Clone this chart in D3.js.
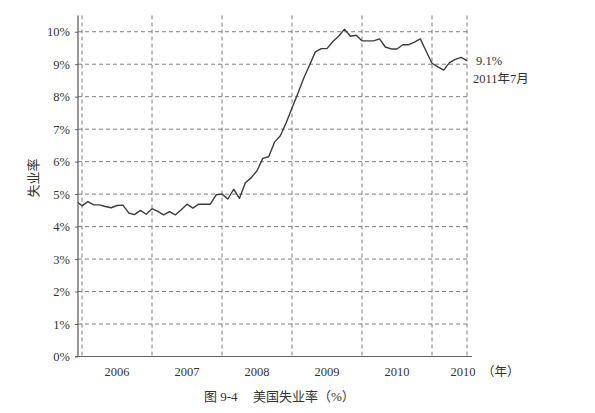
<!DOCTYPE html>
<html>
<head>
<meta charset="utf-8">
<script src="https://cdn.jsdelivr.net/npm/d3@7"></script>
<style>
  html, body { margin: 0; padding: 0; background: #fff; }
  svg { display: block; }
  .serif { font-family: "Liberation Serif", "Noto Sans CJK SC", serif; }
</style>
</head>
<body>
<svg id="chart" width="595" height="413"></svg>
<script>
// ---- data ----
const startMonth = "2005-12";
const rates = [
  4.78,
  4.64, 4.77, 4.67, 4.67, 4.62, 4.58, 4.65, 4.66, 4.42, 4.37, 4.50, 4.38,
  4.55, 4.47, 4.36, 4.46, 4.36, 4.52, 4.69, 4.57, 4.69, 4.69, 4.69, 4.98,
  5.00, 4.85, 5.15, 4.87, 5.35, 5.50, 5.72, 6.10, 6.15, 6.60, 6.80, 7.20,
  7.65, 8.10, 8.57, 8.97, 9.38, 9.48, 9.48, 9.70, 9.86, 10.08, 9.86, 9.89,
  9.72, 9.72, 9.72, 9.78, 9.53, 9.47, 9.47, 9.60, 9.60, 9.68, 9.78, 9.40,
  9.03, 8.92, 8.82, 9.05, 9.15, 9.21, 9.11
];
const yTicks = [0, 1, 2, 3, 4, 5, 6, 7, 8, 9, 10];
const yearLabels = ["2006", "2007", "2008", "2009", "2010", "2010"];
const yearLabelPos = [6, 18, 30, 42, 54, 65.3];   // month index (0 = 2006-01)
const yearLines = [0, 12, 24, 36, 48, 60, 66];
const yTitle = "失业率";
const unitLabel = "（年）";
const noteValue = "9.1%";
const noteDate = "2011年7月";
const captionNo = "图 9-4";
const captionText = "美国失业率（%）";

(function () {
// ---- build monthly points ----
const [sy, sm] = startMonth.split("-").map(Number);
const startIdx = (sy - 2006) * 12 + (sm - 1);
const points = rates.map((v, i) => ({ m: startIdx + i, v }));

const svg = d3.select("#chart");
const pLeft = 78, pRight = 467, pTop = 15.5, pBottom = 356.5;

const x = d3.scaleLinear().domain([-0.69, 66]).range([pLeft, pRight]);
const y = d3.scaleLinear().domain([0, 10.5]).range([pBottom, pTop]);

const gridColor = "#707070";
const textColor = "#333";

svg.append("defs").append("clipPath").attr("id", "plotclip")
  .append("rect").attr("x", pLeft).attr("y", 0).attr("width", pRight - pLeft + 1).attr("height", pBottom);

// horizontal gridlines
svg.append("g").selectAll("line").data(yTicks.filter(d => d > 0)).join("line")
  .attr("x1", pLeft).attr("x2", pRight)
  .attr("y1", d => y(d)).attr("y2", d => y(d))
  .attr("stroke", gridColor).attr("stroke-width", 0.9).attr("stroke-dasharray", "4,3");

// vertical gridlines
svg.append("g").selectAll("line").data(yearLines).join("line")
  .attr("x1", d => x(d)).attr("x2", d => x(d))
  .attr("y1", pTop).attr("y2", pBottom + 2)
  .attr("stroke", gridColor).attr("stroke-width", 0.9).attr("stroke-dasharray", "4,3");

// y axis
const yAxis = d3.axisLeft(y).tickValues(yTicks).tickFormat(d => d + "%").tickSize(3).tickPadding(5);
const gy = svg.append("g").attr("transform", `translate(${pLeft},0)`).call(yAxis);
gy.select(".domain").remove();
gy.selectAll(".tick line").attr("stroke", "#666");
gy.selectAll(".tick text").attr("class", "serif").attr("font-size", 12.5).attr("fill", textColor);
svg.append("line").attr("x1", pLeft).attr("x2", pLeft).attr("y1", pTop).attr("y2", pBottom)
  .attr("stroke", "#555").attr("stroke-width", 1.2);

// x axis
svg.append("line").attr("x1", pLeft - 3).attr("x2", pRight + 5).attr("y1", pBottom).attr("y2", pBottom)
  .attr("stroke", "#666").attr("stroke-width", 1.2);
svg.append("g").selectAll("text").data(yearLabels).join("text")
  .attr("class", "serif")
  .attr("x", (d, i) => x(yearLabelPos[i]))
  .attr("y", 376)
  .attr("text-anchor", "middle")
  .attr("font-size", 12.5).attr("fill", textColor)
  .text(d => d);
svg.append("text").attr("class", "serif")
  .attr("x", 482).attr("y", 376)
  .attr("font-size", 12.5).attr("fill", textColor)
  .text(unitLabel);

// line
const line = d3.line().x(d => x(d.m)).y(d => y(d.v));
svg.append("path").datum(points)
  .attr("clip-path", "url(#plotclip)")
  .attr("d", line)
  .attr("fill", "none").attr("stroke", "#3c3c3c").attr("stroke-width", 1.4)
  .attr("stroke-linejoin", "round");

// y title
svg.append("text").attr("class", "serif")
  .attr("transform", "translate(38,178) rotate(-90)")
  .attr("text-anchor", "middle")
  .attr("font-size", 13).attr("fill", textColor)
  .text(yTitle);

// annotation
svg.append("text").attr("class", "serif").attr("x", 476).attr("y", 65)
  .attr("font-size", 12.5).attr("fill", textColor).text(noteValue);
svg.append("text").attr("class", "serif").attr("x", 473).attr("y", 83)
  .attr("font-size", 12.5).attr("fill", textColor).text(noteDate);

// caption
svg.append("text").attr("class", "serif").attr("x", 204).attr("y", 401)
  .attr("font-size", 13).attr("fill", textColor).text(captionNo);
svg.append("text").attr("class", "serif").attr("x", 253).attr("y", 401)
  .attr("font-size", 13).attr("fill", textColor).text(captionText);
})();
</script>
</body>
</html>
